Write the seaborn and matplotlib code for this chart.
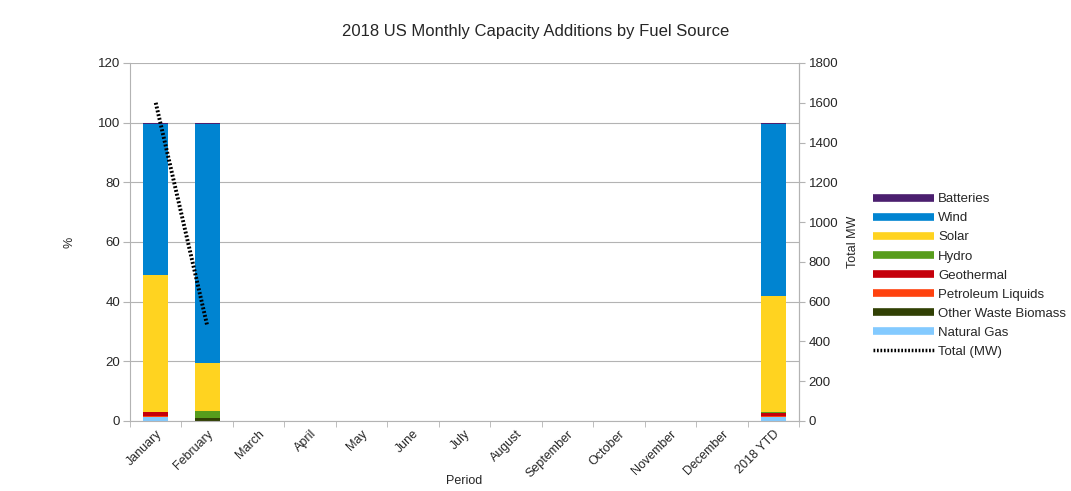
import matplotlib
matplotlib.use("Agg")
import matplotlib.pyplot as plt
import numpy as np
import pandas as pd
import seaborn as sns
from matplotlib.lines import Line2D

# shares of monthly capacity additions by fuel (%)
periods = ["January", "February", "March", "April", "May", "June", "July",
           "August", "September", "October", "November", "December", "2018 YTD"]
natural_gas = [1.5, 0, 0, 0, 0, 0, 0, 0, 0, 0, 0, 0, 1.2]
other_waste_biomass = [0, 1.0, 0, 0, 0, 0, 0, 0, 0, 0, 0, 0, 0.2]
petroleum_liquids = [0.3, 0, 0, 0, 0, 0, 0, 0, 0, 0, 0, 0, 0.3]
geothermal = [1.2, 0, 0, 0, 0, 0, 0, 0, 0, 0, 0, 0, 1.0]
hydro = [0, 2.3, 0, 0, 0, 0, 0, 0, 0, 0, 0, 0, 0.3]
solar = [45.9, 16.1, 0, 0, 0, 0, 0, 0, 0, 0, 0, 0, 38.9]
wind = [50.6, 80.1, 0, 0, 0, 0, 0, 0, 0, 0, 0, 0, 57.6]
batteries = [0.5, 0.5, 0, 0, 0, 0, 0, 0, 0, 0, 0, 0, 0.5]
total_mw = [1600, 480]

series = [
    ("Natural Gas", natural_gas, "#83caff"),
    ("Other Waste Biomass", other_waste_biomass, "#314004"),
    ("Petroleum Liquids", petroleum_liquids, "#ff420e"),
    ("Geothermal", geothermal, "#c5000b"),
    ("Hydro", hydro, "#579d1c"),
    ("Solar", solar, "#ffd320"),
    ("Wind", wind, "#0084d1"),
    ("Batteries", batteries, "#4b1f6f"),
]

sns.set_style("white")
plt.rcParams['font.family'] = ['Liberation Sans', 'DejaVu Sans']

fig = plt.figure(figsize=(10.71, 4.91), dpi=100)
ax = fig.add_axes([130 / 1071, 0.1426, 669 / 1071, 0.7291])

# stacked bars: draw cumulative sums from the top layer down
cum = np.cumsum(np.array([s[1] for s in series]), axis=0)
for i in range(len(series) - 1, -1, -1):
    df = pd.DataFrame({"period": periods, "value": cum[i]})
    sns.barplot(data=df, x="period", y="value", color=series[i][2],
                saturation=1, width=0.49, linewidth=0, edgecolor="none",
                ax=ax, zorder=2)

ax.set_ylim(0, 120)
ax.set_xlim(-0.5, len(periods) - 0.5)
ax.set_yticks(range(0, 121, 20))
ax.grid(axis="y", color="#b3b3b3", linewidth=0.8, zorder=0)
ax.set_axisbelow(True)
ax.spines["top"].set_visible(False)
for sp in ["left", "bottom", "right"]:
    ax.spines[sp].set_color("#b3b3b3")
ax.set_xticks(np.arange(len(periods)))
ax.set_xticklabels(periods, rotation=45, ha="right", rotation_mode="anchor", fontsize=9)
ax.tick_params(axis="x", length=0, pad=5)
ax.tick_params(axis="y", labelsize=9.5, length=5, color="#b3b3b3", left=True, pad=2)
ax.set_xticks(np.arange(len(periods) + 1) - 0.5, minor=True)
ax.tick_params(axis="x", which="minor", length=4, color="#b3b3b3", bottom=True)
ax.set_xlabel("Period", fontsize=9)
ax.xaxis.set_label_coords(0.5, -0.15)
ax.set_ylabel("%", fontsize=9, labelpad=16)

ax2 = ax.twinx()
sns.lineplot(x=[0, 1], y=total_mw, ax=ax2, color="black", linewidth=2.8,
             linestyle=(0, (0.5, 0.5)))
ax2.set_ylim(0, 1800)
ax2.set_yticks(range(0, 1801, 200))
ax2.tick_params(axis="y", labelsize=9.5, length=4, color="#b3b3b3", right=True, pad=3)
for sp in ["top", "left", "bottom"]:
    ax2.spines[sp].set_visible(False)
ax2.spines["right"].set_color("#b3b3b3")
ax2.set_ylabel("Total MW", fontsize=9, labelpad=6)

fig.suptitle("2018 US Monthly Capacity Additions by Fuel Source", fontsize=12, y=0.952)

handles = [Line2D([], [], color=c, linewidth=5.5, solid_capstyle="butt")
           for _, _, c in series[::-1]]
labels = [n for n, _, _ in series[::-1]]
handles.append(Line2D([], [], color="black", linewidth=2.5, linestyle=(0, (0.5, 0.5))))
labels.append("Total (MW)")
fig.legend(handles, labels, loc="upper left", bbox_to_anchor=(873 / 1071, 1 - 193 / 491),
           frameon=False, fontsize=9.5, handlelength=4.6, handletextpad=0.35,
           labelspacing=0.52, borderpad=0, borderaxespad=0)

fig.savefig("out.png", dpi=100)
